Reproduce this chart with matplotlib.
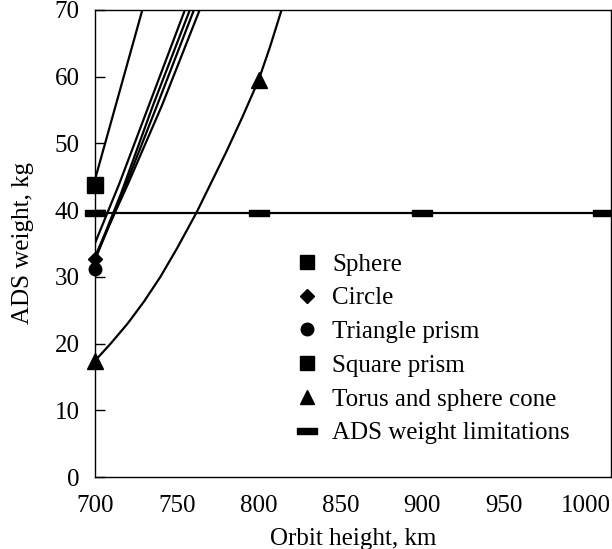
import matplotlib
matplotlib.use("Agg")
import matplotlib.pyplot as plt
from matplotlib.lines import Line2D

plt.rcParams['font.family'] = ['Liberation Serif', 'DejaVu Serif']

# orbit height (km) vs ADS weight (kg)
sphere_x = [700, 729, 740]
sphere_y = [44.5, 70, 80]

square_prism_x = [700, 715, 733, 755, 765]
square_prism_y = [35, 44, 55.7, 70, 76]

circle_x = [700, 716, 735.5, 758, 768]
circle_y = [32.7, 42.5, 55.7, 70, 76]

tri_prism_x = [700, 718, 738, 760.5, 770]
tri_prism_y = [32.5, 43.2, 55.7, 70, 76]

extra_x = [700, 720, 741, 764, 774]
extra_y = [33, 43.8, 55.7, 70, 76]

torus_x = [700, 710, 720, 730, 740, 750, 762, 770, 780, 790, 800, 807, 814, 825]
torus_y = [17.4, 20.1, 23.0, 26.3, 30.0, 34.2, 39.6, 43.6, 48.6, 53.9, 59.5, 64.5, 70, 78]

limit_x = [700, 800, 900, 1010]
limit_y = [39.6, 39.6, 39.6, 39.6]

labels = ["Sphere", "Circle", "Triangle prism", "Square prism",
          "Torus and sphere cone", "ADS weight limitations"]

bar = [(-1.5, -0.5), (1.5, -0.5), (1.5, 0.5), (-1.5, 0.5), (-1.5, -0.5)]

fig = plt.figure(figsize=(6.12, 5.49), dpi=100)
ax = fig.add_axes([0.155, 0.131, 0.843, 0.851])

lw = 1.6
ax.plot(sphere_x, sphere_y, color="k", lw=lw)
ax.plot(square_prism_x, square_prism_y, color="k", lw=lw)
ax.plot(circle_x, circle_y, color="k", lw=lw)
ax.plot(tri_prism_x, tri_prism_y, color="k", lw=lw)
ax.plot(extra_x, extra_y, color="k", lw=lw)
ax.plot(torus_x, torus_y, color="k", lw=lw)
ax.plot(limit_x, limit_y, color="k", lw=lw)

# markers
ax.plot(700, 43.8, "ks", ms=11, clip_on=False, zorder=5)
ax.plot(700, 32.7, "kD", ms=7, clip_on=False, zorder=5)
ax.plot(700, 31.2, "ko", ms=9, clip_on=False, zorder=5)
ax.plot([700, 800], [17.4, 59.5], "k^", ms=11, clip_on=False, zorder=5)
ax.plot(limit_x, limit_y, color="k", lw=0, marker=bar, ms=15, clip_on=False, zorder=5)

ax.set_xlim(700, 1015)
ax.set_ylim(0, 70)
ax.set_xticks([700, 750, 800, 850, 900, 950, 1000])
ax.set_yticks(range(0, 71, 10))
ax.tick_params(axis="y", direction="in", length=7, width=1, labelsize=18, pad=11)
ax.tick_params(axis="x", length=0, labelsize=18, pad=13)
for s in ax.spines.values():
    s.set_linewidth(1)

ax.set_xlabel("Orbit height, km", fontsize=18, labelpad=8)
ax.set_ylabel("ADS weight, kg", fontsize=18, labelpad=15)

handles = [
    Line2D([], [], color="k", lw=0, marker="s", ms=10),
    Line2D([], [], color="k", lw=0, marker="D", ms=7),
    Line2D([], [], color="k", lw=0, marker="o", ms=9),
    Line2D([], [], color="k", lw=0, marker="s", ms=10),
    Line2D([], [], color="k", lw=0, marker="^", ms=10),
    Line2D([], [], color="k", lw=0, marker=bar, ms=14),
]
ax.legend(handles, labels, loc="upper left", bbox_to_anchor=(0.445, 0.58),
          bbox_transform=fig.transFigure, frameon=False, fontsize=18,
          handlelength=1.0, handletextpad=0.5, labelspacing=0.45)

fig.savefig("out.png", dpi=100)
